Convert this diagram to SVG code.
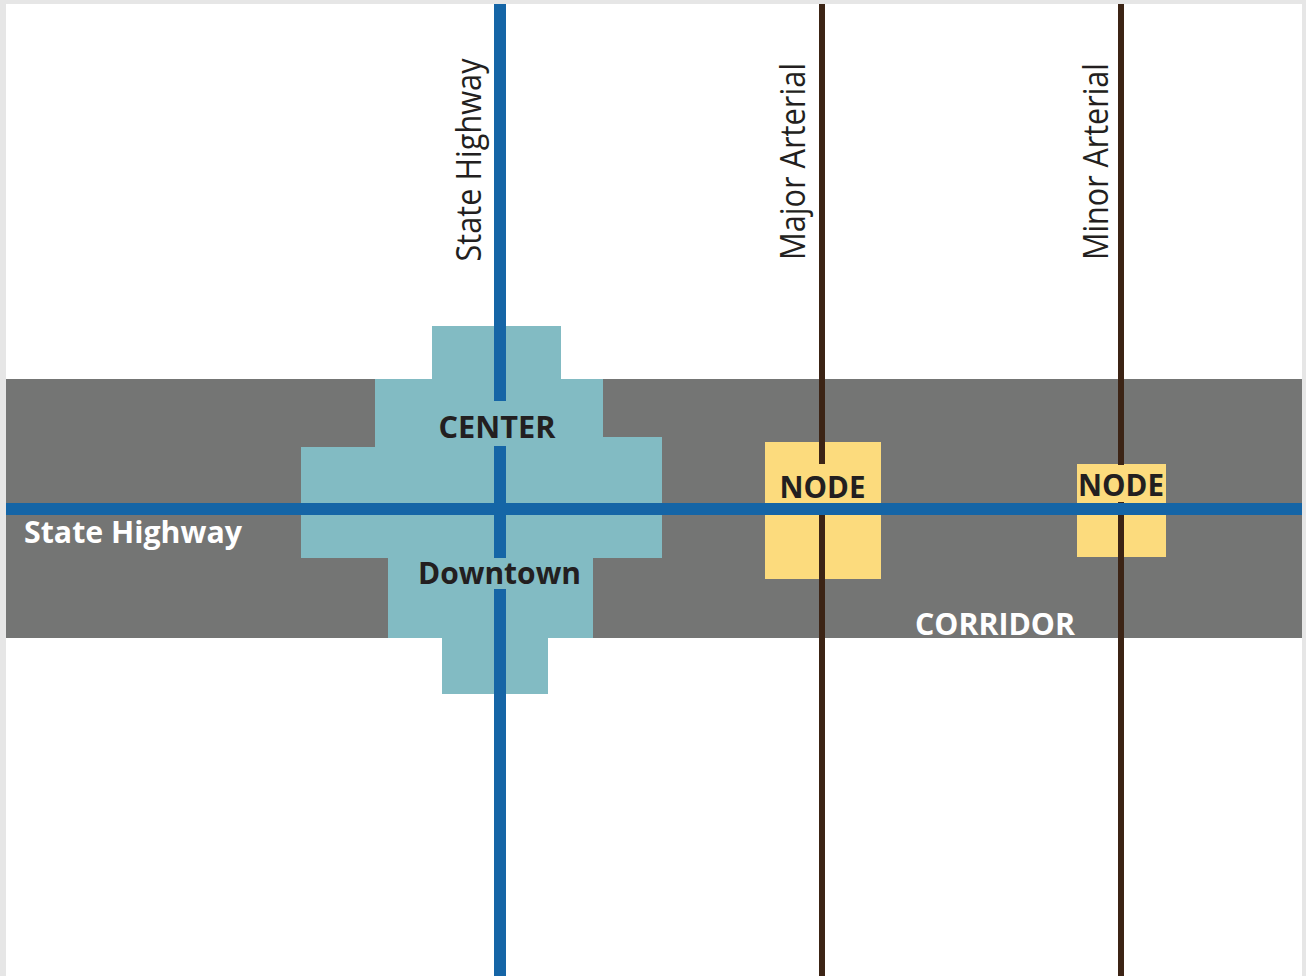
<svg xmlns="http://www.w3.org/2000/svg" width="1306" height="976" viewBox="0 0 1306 976">
  <style>
    .bold { font-family: "Open Sans", "Liberation Sans", sans-serif; font-weight: 700; font-size: 31px; }
    .reg { font-family: "Open Sans", "Liberation Sans", sans-serif; font-weight: 400; font-size: 34px; fill: #231f20; }
    .dark { fill: #231f20; }
    .light { fill: #ffffff; }
    .blue { stroke: #1565a6; stroke-width: 12; fill: none; }
    .brown { stroke: #3c2415; stroke-width: 6; fill: none; }
  </style>
  <rect x="0" y="0" width="1306" height="976" fill="#e6e6e6"/>
  <rect x="6" y="4" width="1296" height="972" fill="#ffffff"/>

  <g id="corridor">
    <rect x="6" y="379" width="1296" height="259" fill="#747574"/>
    <text class="bold light" x="915" y="635" textLength="160" lengthAdjust="spacingAndGlyphs">CORRIDOR</text>
  </g>

  <g id="center">
    <polygon fill="#82bbc3" points="432,326 561,326 561,379 603,379 603,437 662,437 662,558 593,558 593,638 548,638 548,694 442,694 442,638 388,638 388,558 301,558 301,447 375,447 375,379 432,379"/>
    <text class="bold dark" x="497" y="438" text-anchor="middle" textLength="117" lengthAdjust="spacingAndGlyphs">CENTER</text>
    <text class="bold dark" x="499.5" y="584" text-anchor="middle" font-size="30" textLength="163" lengthAdjust="spacingAndGlyphs">Downtown</text>
  </g>

  <g id="node-major">
    <rect x="765" y="442" width="116" height="137" fill="#fcdb7d"/>
    <text class="bold dark" x="822.5" y="498" text-anchor="middle" textLength="86" lengthAdjust="spacingAndGlyphs">NODE</text>
  </g>

  <g id="node-minor">
    <rect x="1077" y="464" width="89" height="93" fill="#fcdb7d"/>
    <text class="bold dark" x="1121" y="496" text-anchor="middle" textLength="86" lengthAdjust="spacingAndGlyphs">NODE</text>
  </g>

  <g id="connectors">
    <path class="blue" d="M500,4 V401 M500,446 V558 M500,589 V976"/>
    <path class="brown" d="M822,4 V464 M822,515 V976"/>
    <path class="brown" d="M1121,4 V465 M1121,502 V976"/>
    <path class="blue" d="M6,509 H1302"/>
  </g>

  <g id="labels">
    <text class="bold light" x="24" y="543" textLength="218" lengthAdjust="spacingAndGlyphs">State Highway</text>
    <text class="reg" transform="translate(481,261.5) rotate(-90)" textLength="203" lengthAdjust="spacingAndGlyphs">State Highway</text>
    <text class="reg" transform="translate(805,260) rotate(-90)" textLength="197" lengthAdjust="spacingAndGlyphs">Major Arterial</text>
    <text class="reg" transform="translate(1108,260) rotate(-90)" textLength="197" lengthAdjust="spacingAndGlyphs">Minor Arterial</text>
  </g>
</svg>
